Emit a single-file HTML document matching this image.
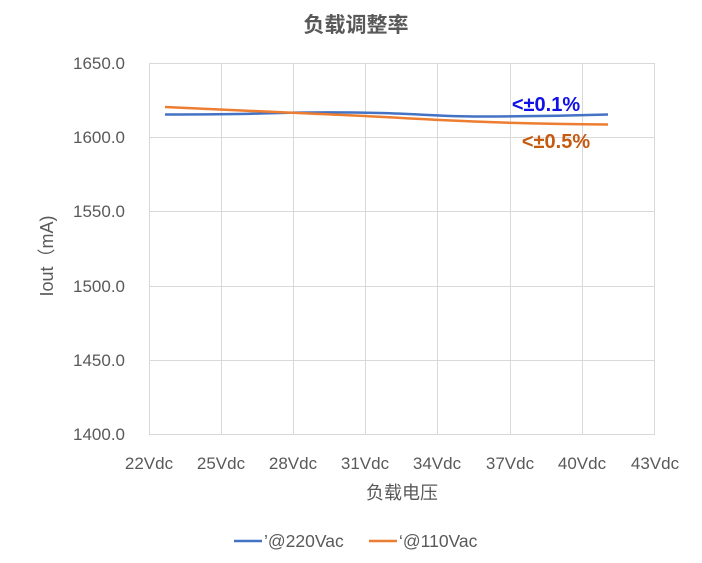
<!DOCTYPE html>
<html><head><meta charset="utf-8"><style>
body{margin:0;background:#fff;}
svg{display:block;font-family:"Liberation Sans","Noto Sans CJK SC",sans-serif;}
</style></head><body>
<svg width="702" height="563" viewBox="0 0 702 563">
<rect width="702" height="563" fill="#fff"/>
<text x="356" y="32" text-anchor="middle" font-size="21" font-weight="bold" fill="#595959">负载调整率</text>
<g stroke="#d9d9d9" stroke-width="1">
<line x1="149" y1="63.5" x2="655" y2="63.5"/>
<line x1="149" y1="137.5" x2="655" y2="137.5"/>
<line x1="149" y1="211.5" x2="655" y2="211.5"/>
<line x1="149" y1="286.5" x2="655" y2="286.5"/>
<line x1="149" y1="360.5" x2="655" y2="360.5"/>
<line x1="149" y1="434.5" x2="655" y2="434.5"/>
<line x1="149.5" y1="63" x2="149.5" y2="434"/>
<line x1="221.5" y1="63" x2="221.5" y2="434"/>
<line x1="293.5" y1="63" x2="293.5" y2="434"/>
<line x1="365.5" y1="63" x2="365.5" y2="434"/>
<line x1="437.5" y1="63" x2="437.5" y2="434"/>
<line x1="510.5" y1="63" x2="510.5" y2="434"/>
<line x1="582.5" y1="63" x2="582.5" y2="434"/>
<line x1="654.5" y1="63" x2="654.5" y2="434"/>
</g>
<g font-size="17" fill="#595959" text-anchor="end">
<text x="125" y="69">1650.0</text>
<text x="125" y="143">1600.0</text>
<text x="125" y="217">1550.0</text>
<text x="125" y="292">1500.0</text>
<text x="125" y="366">1450.0</text>
<text x="125" y="440">1400.0</text>
</g>
<g font-size="17" fill="#595959" text-anchor="middle">
<text x="149" y="469">22Vdc</text>
<text x="221" y="469">25Vdc</text>
<text x="293" y="469">28Vdc</text>
<text x="365" y="469">31Vdc</text>
<text x="437" y="469">34Vdc</text>
<text x="510" y="469">37Vdc</text>
<text x="582" y="469">40Vdc</text>
<text x="655" y="469">43Vdc</text>
</g>
<text x="402" y="499" text-anchor="middle" font-size="18" fill="#595959">负载电压</text>
<text transform="translate(53,256) rotate(-90)" text-anchor="middle" font-size="18" fill="#595959">Iout（mA)</text>
<path d="M165,114.5 C200,114.5 230,114.5 260,113.5 S340,112 380,113 S440,116.5 480,116.5 S560,116 608,114.5" fill="none" stroke="#4472c4" stroke-width="2.5"/>
<path d="M165,107 C220,109 270,112 320,114 S400,118 440,120 S530,124 608,124.5" fill="none" stroke="#ed7d31" stroke-width="2.5"/>
<text x="546" y="111" text-anchor="middle" font-size="20" font-weight="bold" fill="#1010e8">&lt;±0.1%</text>
<text x="556" y="148" text-anchor="middle" font-size="20" font-weight="bold" fill="#c55a11">&lt;±0.5%</text>
<line x1="234" y1="541" x2="262" y2="541" stroke="#4472c4" stroke-width="2.5"/>
<text x="264" y="547" font-size="17.5" fill="#595959">’@220Vac</text>
<line x1="369" y1="541" x2="397" y2="541" stroke="#ed7d31" stroke-width="2.5"/>
<text x="399" y="547" font-size="17.5" fill="#595959">‘@110Vac</text>
</svg>
</body></html>
